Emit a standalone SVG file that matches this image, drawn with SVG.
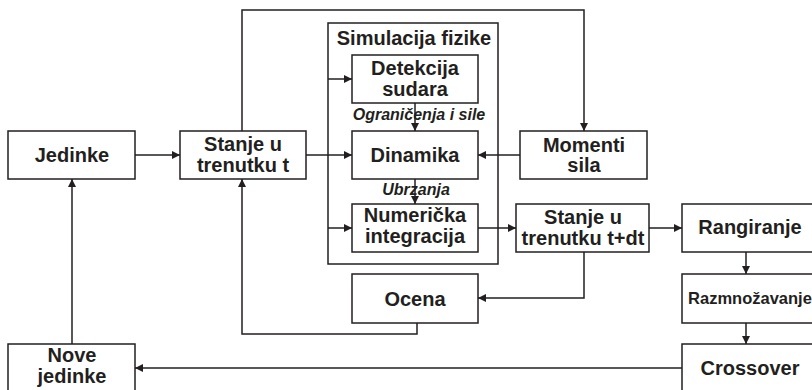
<svg xmlns="http://www.w3.org/2000/svg" width="812" height="390" viewBox="0 0 812 390">
<defs>
<marker id="ah" viewBox="0 0 10 10" refX="10" refY="5" markerWidth="8" markerHeight="8" markerUnits="userSpaceOnUse" orient="auto">
<path d="M0,0 L10,5 L0,10 z" fill="#231f20"/>
</marker>
<style>
.box{fill:#fff;stroke:#231f20;stroke-width:1.5}
.t{font-family:"Liberation Sans",Arial,sans-serif;font-weight:bold;font-size:20px;fill:#231f20;text-anchor:middle}
.s{font-size:16.5px}
.i{font-family:"Liberation Sans",Arial,sans-serif;font-weight:bold;font-style:italic;font-size:16px;fill:#231f20;text-anchor:middle}
.c{fill:none;stroke:#231f20;stroke-width:1.5}
.a{marker-end:url(#ah)}
</style>
</defs>
<rect width="812" height="390" fill="#fff"/>
<g id="sim">
<rect class="box" x="328" y="23" width="170" height="241"/>
<text class="t" x="414" y="45">Simulacija fizike</text>
</g>
<g id="connectors">
<path class="c a" d="M242,131 V10 H584 V131"/>
<path class="c a" d="M135,155 H180"/>
<path class="c a" d="M306,155 H352"/>
<path class="c a" d="M328,79 H352"/>
<path class="c a" d="M328,228 H352"/>
<path class="c a" d="M415,103 V131"/>
<path class="c a" d="M415,179 V204"/>
<path class="c a" d="M520,155 H478"/>
<path class="c a" d="M478,228 H516"/>
<path class="c a" d="M649,228 H682"/>
<path class="c a" d="M584,252 V298 H478"/>
<path class="c a" d="M417,323 V334 H242 V179"/>
<path class="c a" d="M746,252 V274"/>
<path class="c a" d="M746,323 V344"/>
<path class="c a" d="M682,368 H135"/>
<path class="c a" d="M72,344 V179"/>
</g>
<g id="jedinke">
<rect class="box" x="8" y="131" width="127" height="48"/>
<text class="t" x="72" y="162">Jedinke</text>
</g>
<g id="stanje_t">
<rect class="box" x="180" y="131" width="126" height="48"/>
<text class="t" x="243" y="151">Stanje u</text>
<text class="t" x="243" y="172">trenutku t</text>
</g>
<g id="detekcija">
<rect class="box" x="352" y="55" width="126" height="48"/>
<text class="t" x="415" y="75">Detekcija</text>
<text class="t" x="415" y="96">sudara</text>
</g>
<text class="i" x="419" y="120">Ograničenja i sile</text>
<g id="dinamika">
<rect class="box" x="352" y="131" width="126" height="48"/>
<text class="t" x="415" y="162">Dinamika</text>
</g>
<text class="i" x="416" y="195">Ubrzanja</text>
<g id="numericka">
<rect class="box" x="352" y="204" width="126" height="48"/>
<text class="t" x="415" y="222">Numerička</text>
<text class="t" x="415" y="243">integracija</text>
</g>
<g id="ocena">
<rect class="box" x="352" y="274" width="126" height="49"/>
<text class="t" x="415" y="306">Ocena</text>
</g>
<g id="momenti">
<rect class="box" x="520" y="131" width="127" height="48"/>
<text class="t" x="584" y="152">Momenti</text>
<text class="t" x="584" y="172">sila</text>
</g>
<g id="stanje_tdt">
<rect class="box" x="516" y="204" width="133" height="48"/>
<text class="t" x="583" y="224">Stanje u</text>
<text class="t" x="583" y="245">trenutku t+dt</text>
</g>
<g id="rangiranje">
<rect class="box" x="682" y="204" width="140" height="48"/>
<text class="t" x="750" y="234">Rangiranje</text>
</g>
<g id="razmnozavanje">
<rect class="box" x="682" y="274" width="140" height="49"/>
<text class="t s" x="750" y="304">Razmnožavanje</text>
</g>
<g id="crossover">
<rect class="box" x="682" y="344" width="140" height="60"/>
<text class="t" x="750" y="375">Crossover</text>
</g>
<g id="nove">
<rect class="box" x="8" y="344" width="127" height="60"/>
<text class="t" x="72" y="362">Nove</text>
<text class="t" x="72" y="383">jedinke</text>
</g>
</svg>
